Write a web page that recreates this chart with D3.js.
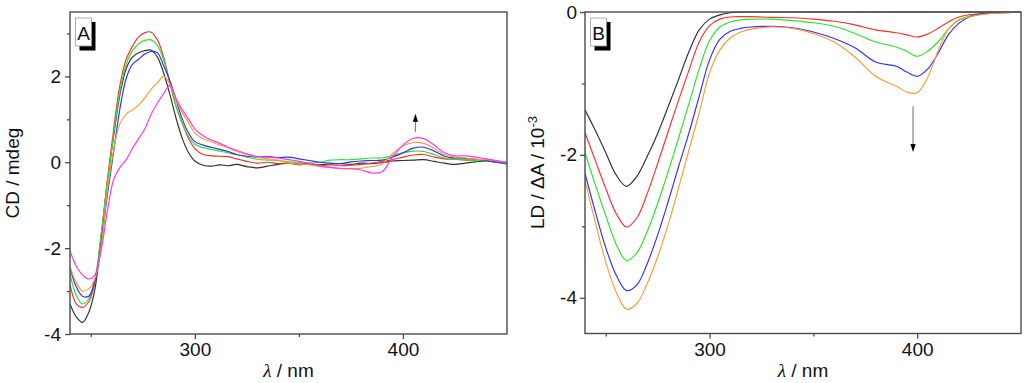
<!DOCTYPE html>
<html>
<head>
<meta charset="utf-8">
<script src="https://cdn.jsdelivr.net/npm/d3@7"></script>
<style>
  html, body { margin: 0; padding: 0; background: #fff; }
  svg { display: block; }
  text { font-family: "Liberation Sans", Arial, sans-serif; fill: #111; }
</style>
</head>
<body>
<script>
// ---------------- Panel A : CD spectra ----------------
const wlA = [240,243,246,249,252,255,258,261,264,267,270,273,276,279,282,285,288,291,294,297,
             300,304,308,312,316,320,325,330,335,340,345,350,355,360,365,370,375,380,385,390,
             395,400,405,410,415,420,425,430,435,440,445,450];
const cdBlack   = [-3.30,-3.60,-3.73,-3.50,-2.95,-1.75,-0.45,0.62,1.58,2.18,2.45,2.55,2.60,2.61,2.45,2.08,1.58,1.02,0.55,0.22,
                   0.03,-0.07,-0.09,-0.06,-0.08,-0.05,-0.10,-0.13,-0.09,-0.05,-0.02,-0.04,-0.03,-0.06,-0.04,-0.03,-0.05,-0.02,-0.03,-0.01,
                   0.03,0.04,0.05,0.06,0.02,-0.02,-0.05,-0.02,0.01,0.03,0.00,-0.02];
const cdRed     = [-2.84,-3.30,-3.38,-3.25,-2.80,-1.70,-0.40,0.78,1.80,2.40,2.70,2.92,3.02,3.03,2.85,2.45,1.85,1.30,0.90,0.55,
                   0.32,0.18,0.15,0.14,0.13,0.08,0.02,-0.02,0.00,-0.03,-0.02,-0.06,-0.04,-0.08,-0.06,-0.08,-0.07,-0.05,-0.02,0.02,
                   0.06,0.12,0.17,0.18,0.12,0.08,0.07,0.05,0.06,0.04,0.02,0.00];
const cdGreen   = [-2.60,-3.10,-3.30,-3.18,-2.72,-1.65,-0.45,0.65,1.65,2.28,2.60,2.76,2.84,2.85,2.72,2.38,1.85,1.30,0.90,0.60,
                   0.42,0.34,0.30,0.26,0.22,0.18,0.12,0.07,0.05,0.04,0.01,0.00,-0.02,0.00,0.05,0.06,0.06,0.08,0.10,0.10,
                   0.16,0.22,0.26,0.25,0.18,0.10,0.07,0.06,0.04,0.05,0.02,-0.02];
const cdBlue    = [-2.45,-2.90,-3.12,-3.12,-2.75,-1.90,-0.75,0.25,1.25,1.95,2.28,2.40,2.52,2.58,2.55,2.25,1.90,1.45,1.00,0.68,
                   0.48,0.40,0.35,0.30,0.25,0.18,0.14,0.12,0.13,0.11,0.12,0.08,0.04,0.00,-0.02,-0.03,0.01,0.03,0.04,0.05,
                   0.12,0.22,0.33,0.35,0.26,0.14,0.10,0.09,0.07,0.04,0.00,-0.04];
const cdOrange  = [-2.43,-2.80,-3.00,-2.95,-2.70,-1.95,-0.65,0.30,0.90,1.12,1.22,1.33,1.50,1.70,1.85,2.00,1.82,1.45,1.15,0.92,
                   0.68,0.55,0.48,0.40,0.34,0.25,0.18,0.12,0.08,0.05,-0.02,-0.04,-0.06,-0.10,-0.12,-0.15,-0.15,-0.14,-0.10,-0.04,
                   0.20,0.38,0.46,0.44,0.32,0.18,0.12,0.10,0.07,0.06,0.03,0.00];
const cdMagenta = [-2.06,-2.42,-2.62,-2.72,-2.62,-2.05,-1.12,-0.40,-0.12,0.06,0.32,0.55,0.78,1.12,1.38,1.60,1.79,1.48,1.22,1.00,
                   0.78,0.62,0.52,0.44,0.35,0.28,0.20,0.13,0.12,0.10,0.06,0.02,-0.02,-0.08,-0.12,-0.14,-0.15,-0.18,-0.25,-0.22,
                   0.12,0.40,0.56,0.55,0.40,0.22,0.15,0.15,0.12,0.08,0.04,0.00];

// ---------------- Panel B : LD spectra ----------------
const wlB = [240,245,250,255,260,265,270,275,280,285,290,295,300,305,310,315,320,330,340,350,
             360,370,380,390,395,400,405,410,415,420,425,430,440,450];
const ldBlack  = [-1.37,-1.66,-1.97,-2.28,-2.44,-2.30,-2.02,-1.70,-1.33,-0.95,-0.56,-0.25,-0.10,-0.04,-0.01,0,0,0,0,0,
                  0,0,0,0,0,0,0,0,0,0,0,0,0,0];
const ldRed    = [-1.69,-2.08,-2.47,-2.82,-3.01,-2.88,-2.54,-2.12,-1.68,-1.24,-0.82,-0.42,-0.19,-0.10,-0.07,-0.065,-0.065,-0.075,-0.08,-0.10,
                  -0.13,-0.18,-0.25,-0.29,-0.32,-0.35,-0.31,-0.23,-0.14,-0.07,-0.04,-0.025,-0.01,0];
const ldGreen  = [-1.97,-2.42,-2.85,-3.25,-3.48,-3.37,-3.07,-2.68,-2.24,-1.77,-1.29,-0.80,-0.40,-0.21,-0.14,-0.11,-0.10,-0.10,-0.12,-0.15,
                  -0.20,-0.30,-0.42,-0.49,-0.55,-0.62,-0.55,-0.42,-0.24,-0.11,-0.06,-0.03,-0.01,0];
const ldBlue   = [-2.26,-2.80,-3.30,-3.68,-3.90,-3.82,-3.52,-3.12,-2.66,-2.17,-1.70,-1.18,-0.67,-0.38,-0.27,-0.23,-0.21,-0.20,-0.22,-0.28,
                  -0.37,-0.50,-0.70,-0.76,-0.84,-0.90,-0.80,-0.58,-0.32,-0.16,-0.07,-0.03,-0.01,0];
const ldOrange = [-2.36,-2.95,-3.50,-3.92,-4.16,-4.08,-3.80,-3.43,-2.98,-2.47,-1.94,-1.41,-0.85,-0.53,-0.36,-0.28,-0.24,-0.21,-0.23,-0.30,
                  -0.42,-0.63,-0.90,-1.04,-1.12,-1.13,-0.92,-0.55,-0.24,-0.12,-0.07,-0.04,-0.01,0];

const colors = { black: "#303030", red: "#ff2e2e", green: "#26e626", blue: "#2e2eff", orange: "#ff9a33", magenta: "#ff33ff" };

const seriesA = [
  { name: "black",   values: cdBlack },
  { name: "red",     values: cdRed },
  { name: "green",   values: cdGreen },
  { name: "blue",    values: cdBlue },
  { name: "orange",  values: cdOrange },
  { name: "magenta", values: cdMagenta }
];
const seriesB = [
  { name: "black",  values: ldBlack },
  { name: "red",    values: ldRed },
  { name: "green",  values: ldGreen },
  { name: "blue",   values: ldBlue },
  { name: "orange", values: ldOrange }
];

const xMajor = [300, 400], xMinor = [250, 350];
const yMajorA = [-4, -2, 0, 2], yMinorA = [-3, -1, 1, 3];
const yMajorB = [-4, -2, 0], yMinorB = [-3, -1];

const svg = d3.select("body").append("svg").attr("width", 1024).attr("height", 383);
const AXIS = "#4a4a4a";

function drawPanel(p) {
  const x = d3.scaleLinear().domain([240, 450]).range([p.left, p.right]);
  const y = d3.scaleLinear().domain(p.yDomain).range([p.bottom, p.top]);
  const g = svg.append("g");

  const clipId = "clip" + p.id;
  g.append("clipPath").attr("id", clipId).append("rect")
    .attr("x", p.left).attr("y", p.top - 1).attr("width", p.right - p.left).attr("height", p.bottom - p.top + 1);

  const line = d3.line().curve(d3.curveCatmullRom.alpha(0.5))
    .x(d => x(d[0])).y(d => y(d[1]));

  const lines = g.append("g").attr("clip-path", `url(#${clipId})`);
  p.series.forEach(s => {
    lines.append("path")
      .datum(p.wl.map((w, i) => [w, s.values[i]]))
      .attr("d", line).attr("fill", "none")
      .attr("stroke", colors[s.name]).attr("stroke-width", 1.15);
  });

  // frame
  g.append("rect").attr("x", p.left).attr("y", p.top)
    .attr("width", p.right - p.left).attr("height", p.bottom - p.top)
    .attr("fill", "none").attr("stroke", AXIS).attr("stroke-width", 1.4);

  // axes
  const style = sel => {
    sel.select(".domain").remove();
    sel.selectAll("line").attr("stroke", AXIS).attr("stroke-width", 1.3);
    sel.selectAll("text").style("font-size", "19px").style("font-family", "'Liberation Sans', Arial, sans-serif").attr("fill", "#111");
  };
  g.append("g").attr("transform", `translate(0,${p.bottom})`)
    .call(d3.axisBottom(x).tickValues(xMajor).tickSize(5).tickPadding(4).tickFormat(d3.format("d")))
    .call(style);
  g.append("g").attr("transform", `translate(0,${p.bottom})`)
    .call(d3.axisBottom(x).tickValues(xMinor).tickSize(3).tickFormat(""))
    .call(style);
  g.append("g").attr("transform", `translate(${p.left},0)`)
    .call(d3.axisLeft(y).tickValues(p.yMajor).tickSize(5).tickPadding(p.yPad).tickFormat(d => d3.format("d")(d).replace("−", "-")))
    .call(style);
  g.append("g").attr("transform", `translate(${p.left},0)`)
    .call(d3.axisLeft(y).tickValues(p.yMinor).tickSize(3).tickFormat(""))
    .call(style);

  // x label
  const xl = g.append("text").attr("x", (p.left + p.right) / 2).attr("y", 377)
    .attr("text-anchor", "middle").style("font-size", "19px");
  xl.append("tspan").text("λ").style("font-style", "italic").style("font-family", "'Liberation Serif', serif");
  xl.append("tspan").text(" / nm");

  // y label
  const yl = g.append("text")
    .attr("transform", `translate(${p.yLabelX},${p.yLabelY}) rotate(-90)`)
    .attr("text-anchor", "start").style("font-size", "19px");
  yl.append("tspan").text(p.yLabel);
  if (p.yLabelSup) {
    yl.append("tspan").text(p.yLabelSup).attr("dy", "-0.55em").style("font-size", "13px");
  }

  // panel letter box
  const bx = p.left + 5.5, by = p.top + 6;
  g.append("rect").attr("x", bx + 4).attr("y", by + 4).attr("width", 16).attr("height", 28.5).attr("fill", "#000");
  g.append("rect").attr("x", bx).attr("y", by).attr("width", 16).attr("height", 28)
    .attr("fill", "#fff").attr("stroke", "#9a9a9a").attr("stroke-width", 0.8);
  g.append("text").attr("x", bx + 8).attr("y", by + 22).attr("text-anchor", "middle")
    .style("font-size", "19px").text(p.letter);

  // arrow
  const ax = x(p.arrow.x), y1 = y(p.arrow.from), y2 = y(p.arrow.to);
  const dir = Math.sign(y2 - y1);
  g.append("line").attr("x1", ax).attr("x2", ax).attr("y1", y1).attr("y2", y2 - dir * 6)
    .attr("stroke", "#808080").attr("stroke-width", 1.2);
  g.append("path")
    .attr("d", `M${ax},${y2} L${ax - 2.6},${y2 - dir * 8} L${ax + 2.6},${y2 - dir * 8} Z`)
    .attr("fill", "#000");
}

drawPanel({
  id: "A", left: 70, right: 507, top: 12, bottom: 334, yDomain: [-4, 3.5],
  wl: wlA, series: seriesA, yMajor: yMajorA, yMinor: yMinorA, yPad: 4,
  yLabel: "CD / mdeg", yLabelX: 18.5, yLabelY: 218.5, letter: "A",
  arrow: { x: 406, from: 0.7, to: 1.13 }
});
drawPanel({
  id: "B", left: 585, right: 1021, top: 12, bottom: 333.5, yDomain: [-4.5, 0],
  wl: wlB, series: seriesB, yMajor: yMajorB, yMinor: yMinorB, yPad: 3,
  yLabel: "LD / ΔA / 10", yLabelSup: "-3", yLabelX: 544, yLabelY: 229, letter: "B",
  arrow: { x: 398, from: -1.32, to: -1.96 }
});
</script>
</body>
</html>
